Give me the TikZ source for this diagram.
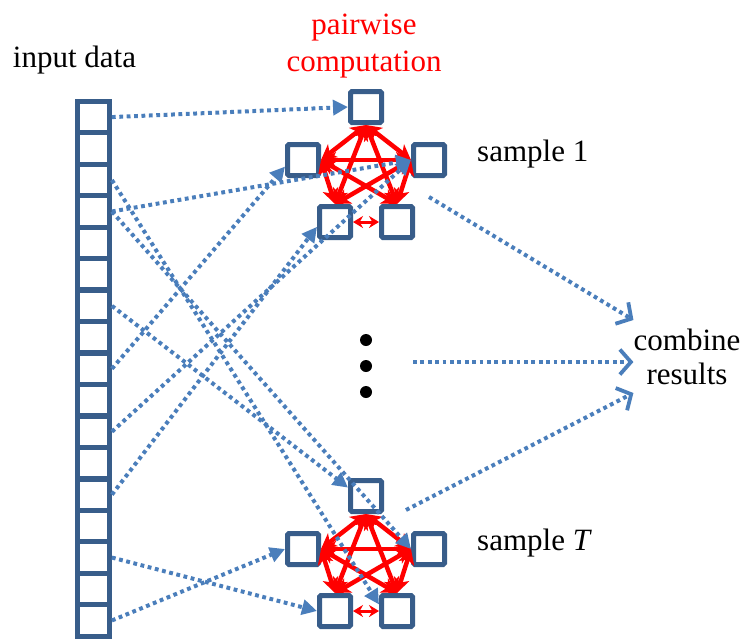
\documentclass[tikz,border=0pt]{standalone}
\usepackage{fontspec}
\setmainfont{Liberation Serif}
\usetikzlibrary{arrows.meta}
\definecolor{boxblue}{RGB}{56,93,138}
\definecolor{linkblue}{RGB}{74,126,187}
\tikzset{
	cell/.style={draw=boxblue, line width=5.3pt, minimum width=31.5pt, minimum height=31.46pt, inner sep=0pt},
	smp/.style={draw=boxblue, line width=5pt, minimum size=31pt, inner sep=0pt, rounded corners=1.5pt},
	pair/.style={red, line width=4.5pt, {Stealth[length=15pt,width=16pt,inset=4pt]}-{Stealth[length=15pt,width=16pt,inset=4pt]}},
	pairsmall/.style={red, line width=3pt, {Stealth[length=10pt,width=12pt]}-{Stealth[length=10pt,width=12pt]}},
	feed/.style={linkblue, line width=4pt, dash pattern=on 3.8pt off 3.6pt, -{Triangle[length=15pt,width=15pt]}},
	gather/.style={linkblue, line width=4pt, dash pattern=on 3.8pt off 3.6pt, -{Straight Barb[length=11pt,width=25pt,line width=3.8pt]}},
	lbl/.style={font=\fontsize{31}{34}\selectfont, inner sep=0pt, align=center}
}

\begin{document}
\begin{tikzpicture}[x=1pt,y=-1pt]
			%%%%% START %%%%%
			\useasboundingbox (0,0) rectangle (744,638);
			
			\node[lbl, anchor=base] (inp) at (74.5,67) {input data};
			\node[lbl, red, font=\fontsize{31}{37}\selectfont] (pc) at (364,46) {pairwise\\computation};
			
			% input column
			\foreach \i in {0,...,16}
				\node[cell] (c\i) at (93.5,117.1+31.46*\i) {};
			
			% the two samples
			\foreach \s/\dy in {1/0,2/389} {
				\node[smp] (t\s) at (366,107+\dy) {};
				\node[smp] (l\s) at (303,160+\dy) {};
				\node[smp] (r\s) at (429,160+\dy) {};
				\node[smp] (bl\s) at (335,222+\dy) {};
				\node[smp] (br\s) at (397,222+\dy) {};
				
				\coordinate (vt) at (t\s.south);
				\coordinate (vl) at (l\s.east);
				\coordinate (vr) at (r\s.west);
				\coordinate (vbl) at (bl\s.north);
				\coordinate (vbr) at (br\s.north);
				\foreach \a/\b in {vt/vl,vt/vr,vt/vbl,vt/vbr,vl/vr,vl/vbl,vl/vbr,vr/vbl,vr/vbr}
					\draw[pair] (\a) -- (\b);
				\draw[pairsmall] (bl\s.east) -- (br\s.west);
			}
			
			\node[lbl, anchor=base west] (smp1) at (477,161) {sample 1};
			\node[lbl, anchor=base west] (smpT) at (477,550) {sample \textit{T}};
			
			\foreach \y in {340,366,392}
				\fill (366,\y) circle (6pt);
			
			% data to samples
			\draw[feed] (c0.east) -- (t1.west);
			\draw[feed] (c3.east) -- (r1.west);
			\draw[feed] (c8.east) -- (l1.200);
			\draw[feed] (c10.east) -- (r1.west);
			\draw[feed] (c12.east) -- (bl1.195);
			\draw[feed] (c6.east) -- (t2.155);
			\draw[feed] (c3.east) -- (r2.west);
			\draw[feed] (c2.east) -- (br2.160);
			\draw[feed] (c14.east) -- (bl2.west);
			\draw[feed] (c16.east) -- (l2.west);
			
			% samples to combine
			\node[lbl] (comb) at (687,357) {combine\\results};
			\coordinate (o1) at (429,197);
			\coordinate (o2) at (413,362);
			\coordinate (oT) at (406,510);
			\draw[gather] (o1) -- ([yshift=37pt]comb.west);
			\draw[gather] (o2) -- ([yshift=-5pt]comb.west);
			\draw[gather] (oT) -- ([yshift=-36pt]comb.west);
			
			%%%%% END %%%%%
\end{tikzpicture}
\end{document}
